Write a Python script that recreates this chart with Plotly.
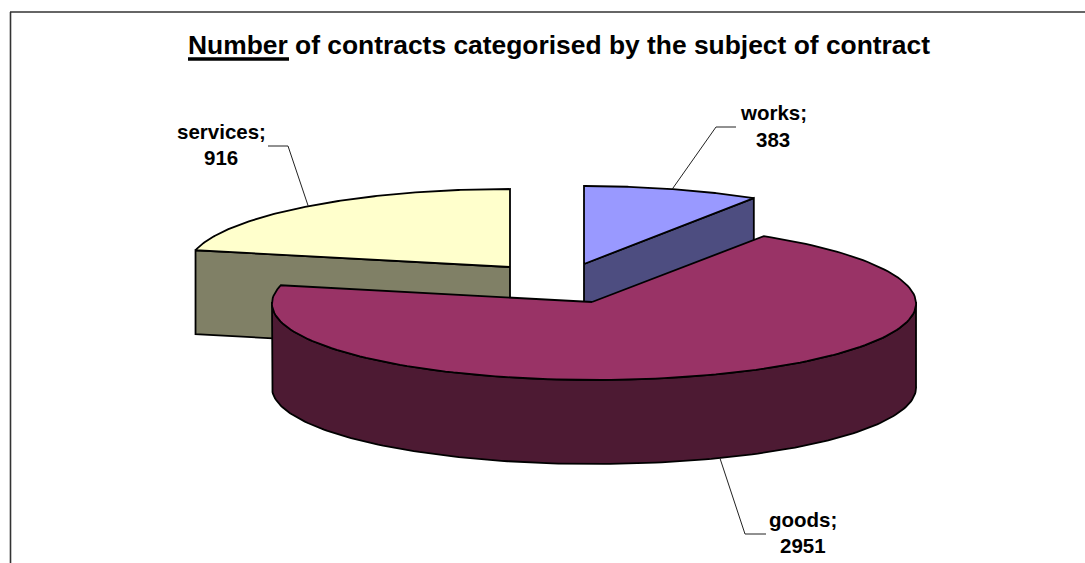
import numpy as np
import plotly.graph_objects as go

# Chart data
categories = ["works", "goods", "services"]
values = [383, 2951, 916]
top_colors = ["#9999FF", "#993366", "#FFFFCC"]
side_colors = ["#4D4D80", "#4D1A33", "#808066"]

# Exploded slice centres (x, y) in the drawing plane
centres = {"works": (584, 264), "goods": (594, 302), "services": (510, 267)}
apex_shift = {"works": 0, "goods": -2, "services": 0}
RX, RY, DEPTH = 322, 78, 84
# The far side of the disc narrows slightly on the right-hand slices
perspective = {"works": 0.02, "goods": 0.02, "services": 0.0}

# Leader elbows and label anchors for each slice
elbows = {"works": [(716, 127), (736, 127)],
          "goods": [(745, 534), (766, 534)],
          "services": [(288, 146), (268, 146)]}
label_pos = {"works": (773, 112, 139), "goods": (803, 519, 545), "services": (221, 131, 157)}

TITLE_FONT = dict(family="Liberation Sans", size=26.4, color="black")
LABEL_FONT = dict(family="Liberation Sans", size=20.5, color="black")

total = sum(values)
angles = np.cumsum([0] + values) / total * 2 * np.pi
spans = dict(zip(categories, zip(angles[:-1], angles[1:])))


def rim(name, t, drop=0.0):
    cx, cy = centres[name]
    return cx + RX * np.sin(t) * (1 - perspective[name] * np.cos(t)), cy - RY * np.cos(t) + drop


def polygon(x, y, color):
    return go.Scatter(x=list(x) + [x[0]], y=list(y) + [y[0]], mode="lines", fill="toself",
                      fillcolor=color, line=dict(color="black", width=1.8),
                      hoverinfo="skip", showlegend=False)


fig = go.Figure()

# Paint far slices first, the large front slice last
for name in ["services", "works", "goods"]:
    i = categories.index(name)
    start, end = spans[name]
    cx, cy = centres[name]
    ax = cx + apex_shift[name]

    if name == "goods":
        # Outer wall, only the part that faces the viewer
        t = np.linspace(np.pi / 2, 3 * np.pi / 2, 160)
        xt, yt = rim(name, t)
        xb, yb = rim(name, t[::-1], DEPTH)
        fig.add_trace(polygon(np.r_[xt, xb], np.r_[yt, yb], side_colors[i]))
    else:
        # Cut face along the radial edge that turns towards the viewer
        edge = end if name == "works" else start
        ex, ey = rim(name, edge)
        fig.add_trace(polygon([ax, ex, ex, ax], [cy, ey, ey + DEPTH, cy + DEPTH], side_colors[i]))

    t = np.linspace(start, end, 160)
    xt, yt = rim(name, t)
    fig.add_trace(polygon(np.r_[ax, xt], np.r_[cy, yt], top_colors[i]))

# Leader lines from the middle of each slice's rim to its label
for name in categories:
    start, end = spans[name]
    mid = (start + end) / 2
    drop = DEPTH if np.cos(mid) < 0 else 0
    mx, my = rim(name, mid, drop)
    pts = [(mx, my)] + elbows[name]
    fig.add_trace(go.Scatter(x=[p[0] for p in pts], y=[p[1] for p in pts], mode="lines",
                             line=dict(color="#222222", width=1), hoverinfo="skip", showlegend=False))

# Data labels, name and value on separate rows
for name, value in zip(categories, values):
    lx, y1, y2 = label_pos[name]
    fig.add_annotation(x=lx, y=y1, text=f"<b>{name};</b>", showarrow=False, font=LABEL_FONT)
    fig.add_annotation(x=lx, y=y2, text=f"<b>{value}</b>", showarrow=False, font=LABEL_FONT)

fig.add_annotation(x=559, y=45, showarrow=False, font=TITLE_FONT,
                   text="<b>Number of contracts categorised by the subject of contract</b>")

fig.update_layout(
    width=1085, height=563, margin=dict(l=0, r=0, t=0, b=0),
    paper_bgcolor="white", plot_bgcolor="white", showlegend=False,
    xaxis=dict(range=[0, 1085], visible=False, fixedrange=True),
    yaxis=dict(range=[563, 0], visible=False, fixedrange=True),
    shapes=[
        dict(type="line", xref="x", yref="y", x0=10, x1=1085, y0=12, y1=12, line=dict(color="#333333", width=1.6)),
        dict(type="line", xref="x", yref="y", x0=10.5, x1=10.5, y0=12, y1=563, line=dict(color="#333333", width=1.6)),
        # Heavy rule under the emphasised first word of the title
        dict(type="line", xref="x", yref="y", x0=188, x1=289, y0=59, y1=59, line=dict(color="black", width=3.5)),
    ],
)

fig.write_html("out.html", config=dict(displayModeBar=False))
